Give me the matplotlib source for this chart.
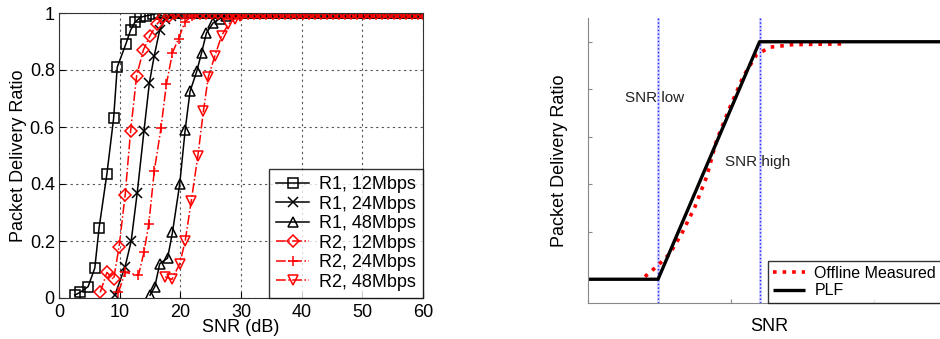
import matplotlib
matplotlib.use('Agg')
import matplotlib.pyplot as plt

plt.rcParams['font.family'] = ['Liberation Sans', 'DejaVu Sans']

# left panel: measured PDR vs SNR
tail_snr = [31, 32, 33, 34, 35, 36, 37, 38, 39, 40, 41, 42, 43, 44, 45,
            46, 47, 48, 49, 50, 51, 52, 53, 54, 55, 56, 57, 58, 59, 60]
tail_pdr = [1.0, 1.0, 1.0, 1.0, 1.0, 1.0, 1.0, 1.0, 1.0, 1.0, 1.0, 1.0, 1.0, 1.0, 1.0,
            1.0, 1.0, 1.0, 1.0, 1.0, 1.0, 1.0, 1.0, 1.0, 1.0, 1.0, 1.0, 1.0, 1.0, 1.0]

r1_12_snr = [2.6, 3.5, 4.8, 5.9, 6.6, 7.9, 9.0, 9.6, 11.0, 11.8, 12.5, 13.4, 14.4, 15.5, 16.5,
             17.5, 18.5, 19.5, 20.5, 21.5, 22.5, 23.5, 24.5, 25.5, 26.5, 27.5, 28.5, 29.5, 30]
r1_12_pdr = [0.01, 0.02, 0.04, 0.105, 0.245, 0.436, 0.63, 0.81, 0.89, 0.94, 0.967, 0.985, 0.99, 0.995, 1.0,
             1.0, 1.0, 1.0, 1.0, 1.0, 1.0, 1.0, 1.0, 1.0, 1.0, 1.0, 1.0, 1.0, 1.0]
r1_24_snr = [9.2, 10.9, 11.9, 12.9, 14.0, 14.9, 15.7, 16.6, 17.5, 18.5, 19.5, 20.5, 21.5, 22.5,
             23.5, 24.5, 25.5, 26.5, 27.5, 28.5, 29.5, 30]
r1_24_pdr = [0.01, 0.11, 0.2, 0.37, 0.585, 0.755, 0.85, 0.94, 0.98, 0.99, 1.0, 1.0, 1.0, 1.0,
             1.0, 1.0, 1.0, 1.0, 1.0, 1.0, 1.0, 1.0]
r1_48_snr = [15.0, 15.8, 16.6, 17.9, 18.7, 19.9, 20.8, 21.6, 22.7, 23.5, 24.3, 25.4, 26.5, 27.6,
             28.5, 29.5, 30]
r1_48_pdr = [0.01, 0.04, 0.12, 0.14, 0.23, 0.40, 0.59, 0.725, 0.795, 0.86, 0.93, 0.965, 0.98, 0.99,
             1.0, 1.0, 1.0]

r2_12_snr = [6.8, 7.9, 9.0, 9.9, 10.9, 11.8, 12.8, 13.9, 15.0, 16.1, 17.2, 18.2, 19.2, 20.2, 21.2,
             22.2, 23.2, 24.2, 25.2, 26.2, 27.2, 28.2, 29.2, 30.2, 31.2, 32.2, 33.2, 34.2, 35.2,
             36.2, 37.2, 38.2, 39.2, 40.2, 41.2, 42.2, 43.2, 44.2, 45.2, 46.2, 47.2, 48.2, 49.2,
             50.2, 51.2, 52.2, 53.2, 54.2, 55.2, 56.2, 57.2, 58.2, 59.2, 60.0]
r2_12_pdr = [0.02, 0.09, 0.065, 0.18, 0.36, 0.585, 0.78, 0.87, 0.92, 0.96, 0.985, 0.99, 1.0, 1.0, 1.0,
             1.0, 1.0, 1.0, 1.0, 1.0, 1.0, 1.0, 1.0, 1.0, 1.0, 1.0, 1.0, 1.0, 1.0,
             1.0, 1.0, 1.0, 1.0, 1.0, 1.0, 1.0, 1.0, 1.0, 1.0, 1.0, 1.0, 1.0, 1.0,
             1.0, 1.0, 1.0, 1.0, 1.0, 1.0, 1.0, 1.0, 1.0, 1.0, 1.0]
r2_24_snr = [9.8, 10.9, 13.1, 14.0, 14.8, 15.7, 16.8, 17.7, 18.7, 19.7, 20.8, 21.9, 22.9, 23.9,
             24.9, 25.9, 26.9, 27.9, 28.9, 29.9, 30.9, 31.9, 32.9, 33.9, 34.9, 35.9, 36.9, 37.9,
             38.9, 39.9, 40.9, 41.9, 42.9, 43.9, 44.9, 45.9, 46.9, 47.9, 48.9, 49.9, 50.9, 51.9,
             52.9, 53.9, 54.9, 55.9, 56.9, 57.9, 58.9, 59.9]
r2_24_pdr = [0.02, 0.09, 0.08, 0.16, 0.26, 0.445, 0.595, 0.75, 0.86, 0.91, 0.97, 0.99, 1.0, 1.0,
             1.0, 1.0, 1.0, 1.0, 1.0, 1.0, 1.0, 1.0, 1.0, 1.0, 1.0, 1.0, 1.0, 1.0,
             1.0, 1.0, 1.0, 1.0, 1.0, 1.0, 1.0, 1.0, 1.0, 1.0, 1.0, 1.0, 1.0, 1.0,
             1.0, 1.0, 1.0, 1.0, 1.0, 1.0, 1.0, 1.0]
r2_48_snr = [17.5, 18.6, 19.9, 20.8, 21.8, 22.9, 23.8, 24.6, 25.7, 26.8, 27.9, 29.0, 29.8,
             30.6, 31.6, 32.6, 33.6, 34.6, 35.6, 36.6, 37.6, 38.6, 39.6, 40.6, 41.6, 42.6,
             43.6, 44.6, 45.6, 46.6, 47.6, 48.6, 49.6, 50.6, 51.6, 52.6, 53.6, 54.6, 55.6,
             56.6, 57.6, 58.6, 59.6]
r2_48_pdr = [0.075, 0.065, 0.12, 0.2, 0.34, 0.50, 0.655, 0.775, 0.85, 0.92, 0.96, 0.98, 0.99,
             1.0, 1.0, 1.0, 1.0, 1.0, 1.0, 1.0, 1.0, 1.0, 1.0, 1.0, 1.0, 1.0,
             1.0, 1.0, 1.0, 1.0, 1.0, 1.0, 1.0, 1.0, 1.0, 1.0, 1.0, 1.0, 1.0,
             1.0, 1.0, 1.0, 1.0]

labels = ['R1, 12Mbps', 'R1, 24Mbps', 'R1, 48Mbps', 'R2, 12Mbps', 'R2, 24Mbps', 'R2, 48Mbps']

# right panel: piecewise linear fit sketch
plf_snr = [0, 2.45, 6.0, 12.7]
plf_pdr = [0, 0, 1, 1]
meas_snr = [1.99, 2.46, 2.87, 3.28, 3.74, 4.15, 4.5, 4.97, 5.43, 5.9, 6.36, 7.18, 8.99]
meas_pdr = [0.011, 0.06, 0.109, 0.193, 0.305, 0.432, 0.586, 0.726, 0.854, 0.946, 0.977, 0.988, 0.991]
snr_low = 2.45
snr_high = 6.0

fig = plt.figure(figsize=(9.4, 3.39), dpi=100)

ax = fig.add_axes([59 / 940, 41 / 339, 364 / 940, 285 / 339])
ax.set_axisbelow(True)
ax.grid(True, color='#555555', linestyle=(0, (2, 3)), linewidth=0.8)

series = [
    (r1_12_snr + tail_snr, r1_12_pdr + tail_pdr, 'k', '-', 's'),
    (r1_24_snr + tail_snr, r1_24_pdr + tail_pdr, 'k', '-', 'x'),
    (r1_48_snr + tail_snr, r1_48_pdr + tail_pdr, 'k', '-', '^'),
    (r2_12_snr, r2_12_pdr, 'r', '-.', 'D'),
    (r2_24_snr, r2_24_pdr, 'r', '-.', '+'),
    (r2_48_snr, r2_48_pdr, 'r', '-.', 'v'),
]
for (xs, ys, c, ls, m), lab in zip(series, labels):
    ms = 7 if m != 'D' else 6
    ax.plot(xs, ys, color=c, linestyle=ls, marker=m, markersize=ms,
            markerfacecolor='none', markeredgecolor=c, markeredgewidth=1.1,
            linewidth=1.1, label=lab)

ax.set_xlim(0, 60)
ax.set_ylim(0, 1)
ax.set_xticks([0, 10, 20, 30, 40, 50, 60])
ax.set_yticks([0, 0.2, 0.4, 0.6, 0.8, 1])
ax.set_yticklabels(['0', '0.2', '0.4', '0.6', '0.8', '1'])
ax.tick_params(direction='in', length=4, labelsize=13)
ax.tick_params(axis='x', pad=4)
ax.tick_params(axis='y', pad=3)
ax.set_xlabel('SNR (dB)', fontsize=13, labelpad=-1)
ax.set_ylabel('Packet Delivery Ratio', fontsize=13, labelpad=2)
for s in ax.spines.values():
    s.set_color('#333333')

leg = ax.legend(loc='lower right', fontsize=13, frameon=True, fancybox=False,
                borderaxespad=0, handlelength=1.8, handletextpad=0.55,
                labelspacing=0.14, borderpad=0.4)
leg.get_frame().set_edgecolor('k')
leg.get_frame().set_linewidth(1.0)

ax2 = fig.add_axes([588 / 940, 36 / 339, 362 / 940, 285 / 339])
ax2.axvline(snr_low, color='#b0b0ff', linewidth=2.2, alpha=0.5)
ax2.axvline(snr_low, color='#2020ff', linestyle=':', linewidth=1.0)
ax2.axvline(snr_high, color='#b0b0ff', linewidth=2.2, alpha=0.5)
ax2.axvline(snr_high, color='#2020ff', linestyle=':', linewidth=1.0)
ax2.plot(meas_snr, meas_pdr, color='red', linestyle=':', linewidth=2.6, label='Offline Measured')
ax2.plot(plf_snr, plf_pdr, color='k', linewidth=2.4, label='PLF', solid_capstyle='butt')
ax2.text(1.29, 0.763, 'SNR low', fontsize=11, va='center', ha='left', color='#222222')
ax2.text(4.79, 0.494, 'SNR high', fontsize=11, va='center', ha='left', color='#222222')

ax2.set_xlim(0, 12.66)
ax2.set_ylim(-0.1, 1.1)
ax2.set_xticks([0, 5, 10])
ax2.set_yticks([0, 0.2, 0.4, 0.6, 0.8, 1.0])
ax2.set_xticklabels([])
ax2.set_yticklabels([])
ax2.tick_params(direction='in', length=3, color='#888888')
ax2.spines['top'].set_visible(False)
ax2.spines['right'].set_visible(False)
ax2.spines['left'].set_color('#888888')
ax2.spines['bottom'].set_color('#888888')
ax2.set_xlabel('SNR', fontsize=13, labelpad=7)
ax2.set_ylabel('Packet Delivery Ratio', fontsize=13, labelpad=11)

leg2 = ax2.legend(loc='lower left', bbox_to_anchor=(768 / 940, 36 / 339),
                  bbox_transform=fig.transFigure, fontsize=11.5, frameon=True,
                  fancybox=False, handlelength=2.0, handletextpad=0.6,
                  labelspacing=0.15, borderpad=0.3, borderaxespad=0)
leg2.get_frame().set_edgecolor('k')
leg2.get_frame().set_linewidth(1.0)

fig.savefig('out.png', dpi=100)
